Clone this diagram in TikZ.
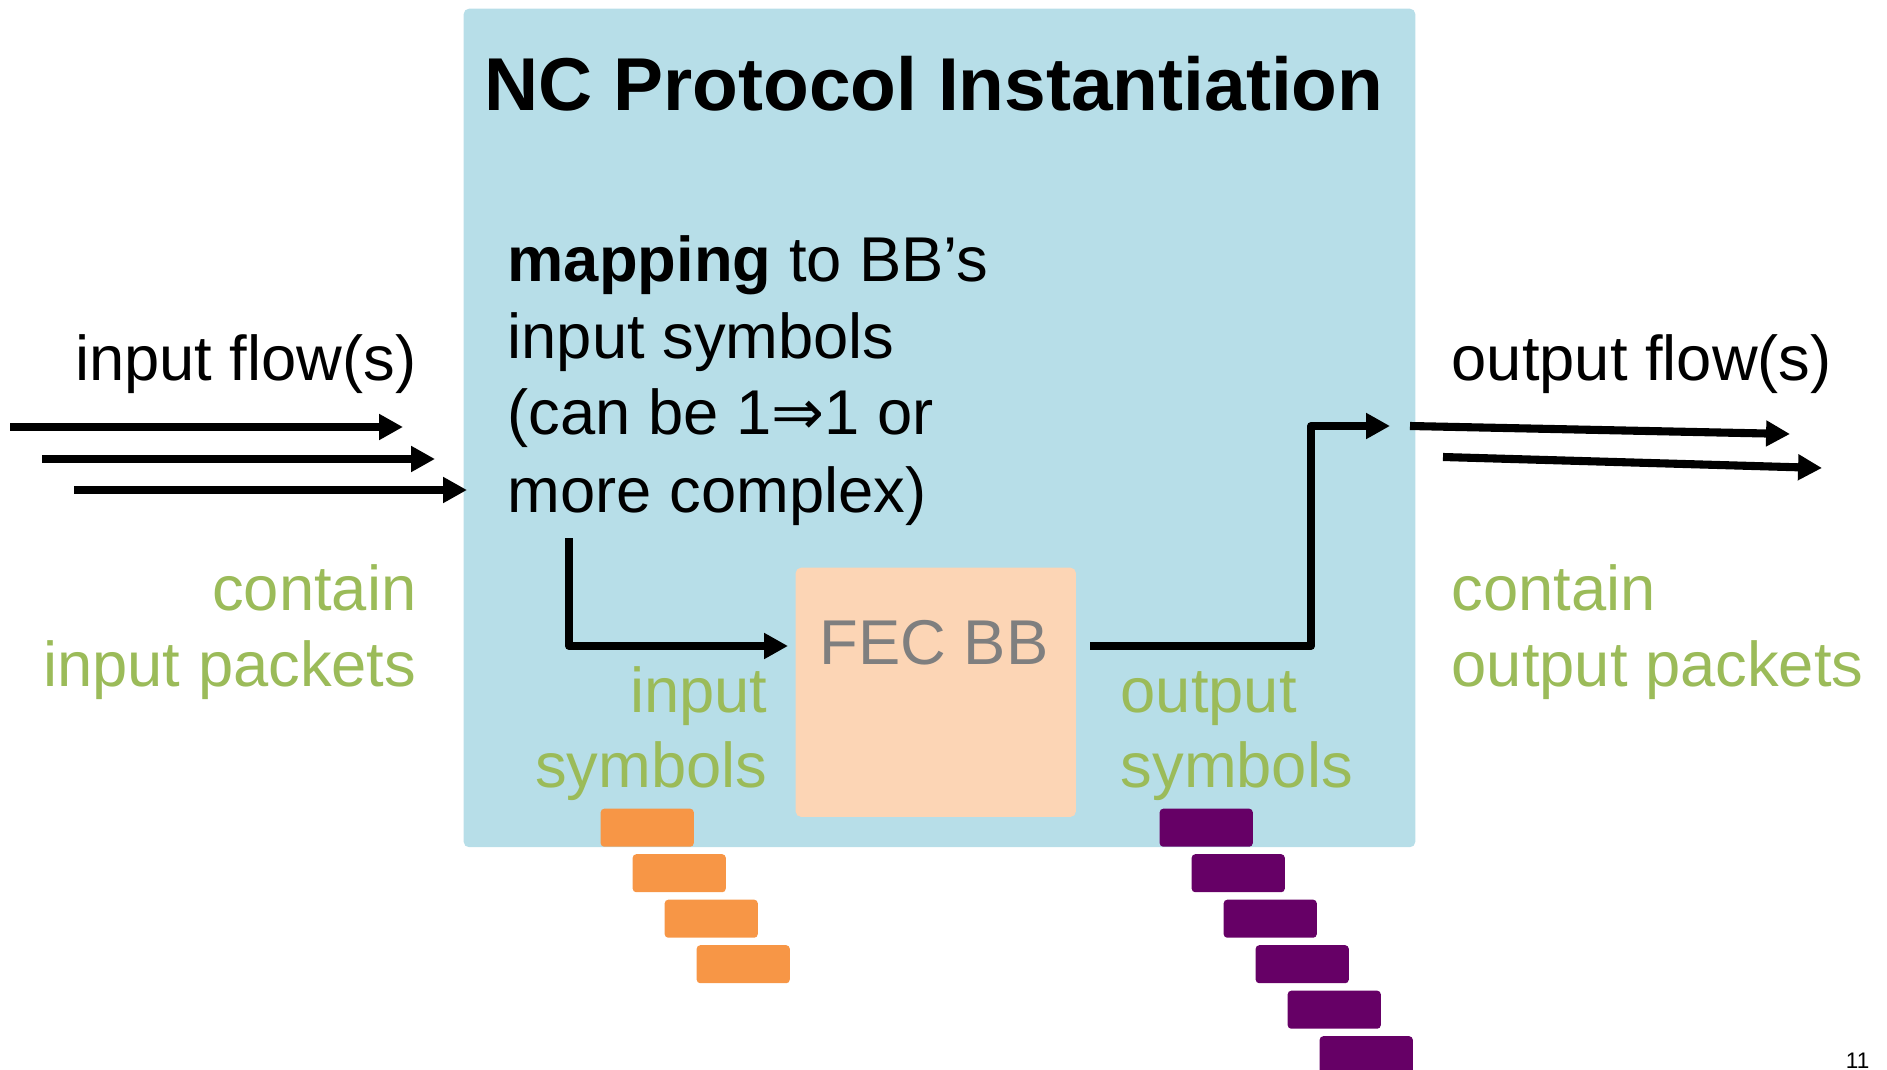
\documentclass[tikz,border=0pt]{standalone}
\usepackage{fontspec}
\setmainfont{Liberation Sans}
\newfontfamily\djv{DejaVu Sans}
\usetikzlibrary{arrows.meta}
\definecolor{ncblue}{HTML}{B7DEE8}
\definecolor{fecpeach}{HTML}{FCD5B5}
\definecolor{fecgray}{HTML}{7F7F7F}
\definecolor{symorange}{HTML}{F79646}
\definecolor{sympurple}{HTML}{660066}
\definecolor{txtgreen}{HTML}{9BBB59}
\begin{document}
\begin{tikzpicture}[x=0.01cm,y=-0.01cm,
  conn/.style={line width=2.3pt,-{Triangle[length=6.8pt,width=7pt]},line join=round},
  txt/.style={inner sep=0pt,font=\fontsize{18}{21.7}\selectfont},
  gtxt/.style={txt,text=txtgreen},
  symbox/.style={inner sep=0pt,anchor=north west,minimum width=0.93cm,minimum height=0.38cm,rounded corners=1pt}]
\useasboundingbox (0,0) rectangle (1887,1070);

% main blue box
\node[fill=ncblue,inner sep=0pt,anchor=north west,minimum width=9.51cm,minimum height=8.38cm,rounded corners=1.5pt] (nc) at (463,8) {};
\node[inner sep=0pt,anchor=base,font=\bfseries\fontsize{21.3}{26}\selectfont] (title) at (934,111) {NC Protocol Instantiation};

% FEC box
\node[fill=fecpeach,inner sep=0pt,anchor=north west,minimum width=2.8cm,minimum height=2.49cm,rounded corners=1.5pt] (fec) at (795,567) {};
\node[txt,text=fecgray,anchor=base] (fectext) at (934,664) {FEC BB};

% mapping text
\node[txt,anchor=base west] (map1) at (507,282) {\textbf{mapping} to BB’s};
\node[txt,anchor=base west] (map2) at (507,358) {input symbols};
\node[txt,anchor=base west] (map3) at (507,435) {(can be 1{\djv ⇒}1 or};
\node[txt,anchor=base west] (map4) at (507,512) {more complex)};

% left side texts
\node[txt,anchor=base east] (inflow) at (417,380) {input flow(s)};
\node[gtxt,anchor=base east] (incont1) at (417,610) {contain};
\node[gtxt,anchor=base east] (incont2) at (417,686) {input packets};

% right side texts
\node[txt,anchor=base west] (outflow) at (1451,380) {output flow(s)};
\node[gtxt,anchor=base west] (outcont1) at (1451,610) {contain};
\node[gtxt,anchor=base west] (outcont2) at (1451,686) {output packets};

% symbol labels
\node[gtxt,anchor=base east] (insym1) at (768,712) {input};
\node[gtxt,anchor=base east] (insym2) at (768,787) {symbols};
\node[gtxt,anchor=base west] (outsym1) at (1120,712) {output};
\node[gtxt,anchor=base west] (outsym2) at (1120,787) {symbols};

% input symbol blocks
\foreach \i in {0,...,3}{
  \node[symbox,fill=symorange] (isb\i) at (600+32*\i,808+45.5*\i) {};
}
% output symbol blocks
\foreach \i in {0,...,5}{
  \node[symbox,fill=sympurple] (osb\i) at (1159+32*\i,808+45.5*\i) {};
}

% input flow arrows
\coordinate (in1s) at (10,427);  \coordinate (in1e) at (403,427);
\coordinate (in2s) at (42,459);  \coordinate (in2e) at (435,459);
\coordinate (in3s) at (74,490);  \coordinate (in3e) at (467,490);
\draw[conn] (in1s) -- (in1e);
\draw[conn] (in2s) -- (in2e);
\draw[conn] (in3s) -- (in3e);

% mapping arrow to FEC
\coordinate (mapstart) at (569,538);
\coordinate (fecin) at (788,646);
\draw[conn] (mapstart) |- (fecin);

% FEC output arrow
\coordinate (fecout) at (1090,646);
\coordinate (upcorner) at (1311,426);
\coordinate (outtip) at (1390,426);
\draw[conn] (fecout) -| (upcorner) -- (outtip);

% output flow arrows
\coordinate (out1s) at (1410,426); \coordinate (out1e) at (1790,434);
\coordinate (out2s) at (1443,457); \coordinate (out2e) at (1822,468);
\draw[conn] (out1s) -- (out1e);
\draw[conn] (out2s) -- (out2e);

% page number
\node[inner sep=0pt,anchor=base east,font=\fontsize{6.4}{8}\selectfont] (pagenum) at (1870,1068) {11};
\end{tikzpicture}
\end{document}
